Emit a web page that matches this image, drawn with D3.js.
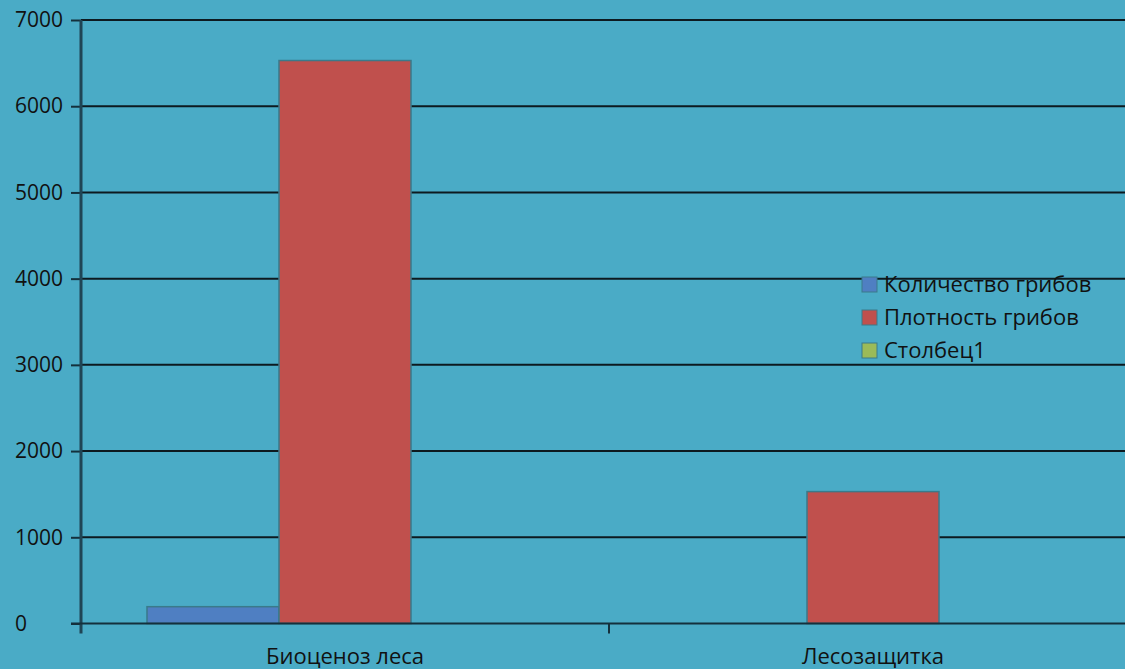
<!DOCTYPE html>
<html lang="ru">
<head>
<meta charset="UTF-8">
<title>Грибы</title>
<style>
body{margin:0;background:#4aabc6;overflow:hidden;}
text{font-family:"Open Sans",sans-serif;fill:#111;}
</style>
</head>
<body>
<script src="https://d3js.org/d3.v7.min.js"></script>
<script>
var categories = ["Биоценоз леса", "Лесозащитка"];
var series = ["Количество грибов", "Плотность грибов", "Столбец1"];
var colors = ["#4f7fc2", "#c0504d", "#9bbb59"];
// values per series, one per category
var kolichestvo = [195, 0];
var plotnost = [6530, 1530];
var stolbec1 = [0, 0];
var yTicks = [0, 1000, 2000, 3000, 4000, 5000, 6000, 7000];

var values = [kolichestvo, plotnost, stolbec1];
var width = 1125, height = 669;
var padLeft = 81, padRight = 1137, padTop = 20, padBottom = 623.5;

var svg = d3.select("body").append("svg")
	.attr("width", width).attr("height", height);

var y = d3.scaleLinear().domain([0, 7000]).range([padBottom, padTop]);
var x0 = d3.scaleBand().domain(categories).range([padLeft, padRight]).padding(0);
var x1 = d3.scaleBand().domain(series).range([0, x0.bandwidth()]).paddingInner(0).paddingOuter(0.5);

// gridlines
svg.append("g").selectAll("line").data(yTicks.slice(1)).enter().append("line")
	.attr("x1", padLeft).attr("x2", padRight)
	.attr("y1", function(d){return y(d);}).attr("y2", function(d){return y(d);})
	.attr("stroke", "#0d1a20").attr("stroke-width", 2);

// bars
categories.forEach(function(c, i){
	series.forEach(function(s, j){
		var v = values[j][i];
		if(v <= 0) return;
		svg.append("rect")
			.attr("x", x0(c) + x1(s))
			.attr("y", y(v))
			.attr("width", x1.bandwidth())
			.attr("height", y(0) - y(v))
			.attr("fill", colors[j])
			.attr("stroke", "#3a7a8a").attr("stroke-width", 1.5);
	});
});

// y axis (labels are left aligned in the original)
var yAxis = d3.axisLeft(y).tickValues(yTicks).tickSize(10).tickFormat(d3.format("d"));
var gy = svg.append("g").attr("transform", "translate(" + padLeft + ",0)").call(yAxis);
gy.select(".domain").remove();
gy.selectAll(".tick line").attr("stroke", "#14303c").attr("stroke-width", 2);
gy.selectAll("text").style("font-size", "21px").attr("fill", "#111")
	.attr("text-anchor", "start").attr("x", 15 - padLeft);
svg.append("line").attr("x1", padLeft).attr("x2", padLeft).attr("y1", padTop).attr("y2", padBottom + 10)
	.attr("stroke", "#1f4555").attr("stroke-width", 3);

// x axis
svg.append("line").attr("x1", padLeft - 10).attr("x2", padRight).attr("y1", padBottom).attr("y2", padBottom)
	.attr("stroke", "#14303c").attr("stroke-width", 2);
svg.append("g").selectAll("line").data(categories.slice(1)).enter().append("line")
	.attr("x1", function(d){return x0(d);}).attr("x2", function(d){return x0(d);})
	.attr("y1", padBottom).attr("y2", padBottom + 10)
	.attr("stroke", "#14303c").attr("stroke-width", 2);
svg.append("g").selectAll("text").data(categories).enter().append("text")
	.attr("x", function(d){return x0(d) + x0.bandwidth() / 2;})
	.attr("y", 664)
	.attr("text-anchor", "middle")
	.style("font-size", "22px")
	.text(function(d){return d;});

// legend
var leg = svg.append("g").attr("transform", "translate(862,277)");
series.forEach(function(s, j){
	var g = leg.append("g").attr("transform", "translate(0," + (j * 33) + ")");
	g.append("rect").attr("width", 15).attr("height", 15)
		.attr("fill", colors[j]).attr("stroke", "#3a7a8a").attr("stroke-width", 1);
	g.append("text").attr("x", 22).attr("y", 15).style("font-size", "22px").text(s);
});
</script>
</body>
</html>
